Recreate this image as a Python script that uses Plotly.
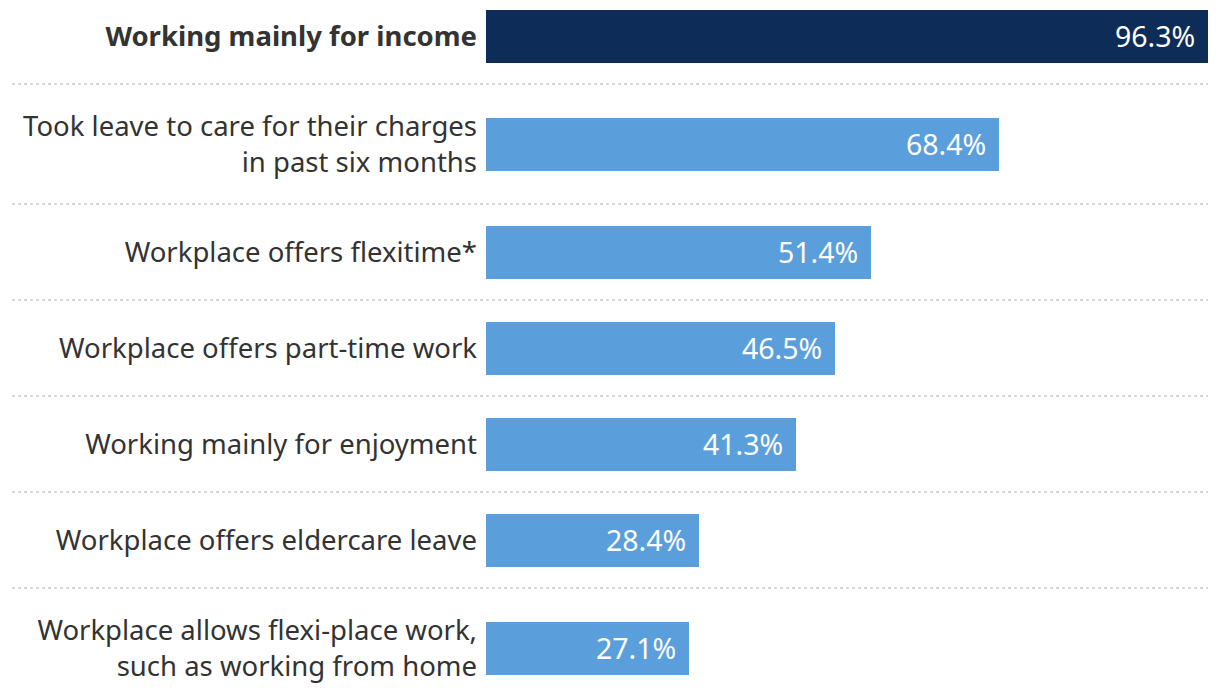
import plotly.graph_objects as go

categories = [
    "<b>Working mainly for income</b>",
    "Took leave to care for their charges<br>in past six months",
    "Workplace offers flexitime*",
    "Workplace offers part-time work",
    "Working mainly for enjoyment",
    "Workplace offers eldercare leave",
    "Workplace allows flexi-place work,<br>such as working from home",
]
values = [96.3, 68.4, 51.4, 46.5, 41.3, 28.4, 27.1]
colors = ["#0d2c57", "#5b9edc", "#5b9edc", "#5b9edc", "#5b9edc", "#5b9edc", "#5b9edc"]

# Row layout: rows with two-line labels are taller
BASE_HALF = 48
EXTRA_PER_LINE = 12
halves = [BASE_HALF + EXTRA_PER_LINE * c.count("<br>") for c in categories]
positions = []
p = 0
for i, h in enumerate(halves):
    if i > 0:
        p += halves[i - 1] + h
    positions.append(p)

W, H = 1212, 690
top = -28
bottom = top + H

FONT = "Noto Sans"
TEXT_COLOR = "#333333"

fig = go.Figure()
fig.add_trace(go.Bar(
    x=values,
    y=positions,
    orientation="h",
    width=53,
    marker=dict(color=colors, line=dict(width=0)),
    hoverinfo="skip",
))

for v, pos in zip(values, positions):
    fig.add_annotation(
        x=v, y=pos, xref="x", yref="y",
        text=f"{v:.1f}%", showarrow=False,
        xanchor="right", yanchor="middle", xshift=-11,
        font=dict(family=FONT, size=28.5, color="white"),
    )

# dotted separators between rows
for i in range(len(positions) - 1):
    ysep = positions[i] + halves[i]
    fig.add_shape(
        type="line", xref="paper", yref="y",
        x0=-0.6565, x1=1.0, y0=ysep, y1=ysep,
        line=dict(color="#cccccc", width=1.3, dash="dot"),
    )

fig.update_layout(
    width=W, height=H,
    margin=dict(l=478, r=12, t=0, b=0),
    plot_bgcolor="white", paper_bgcolor="white",
    showlegend=False,
    bargap=0,
    font=dict(family=FONT, color=TEXT_COLOR),
)
fig.update_xaxes(range=[0, 96.3], visible=False, fixedrange=True)
fig.update_yaxes(
    range=[bottom, top],
    tickvals=positions, ticktext=categories,
    showgrid=False, zeroline=False, showline=False, ticks="",
    tickfont=dict(family=FONT, size=27.5, color=TEXT_COLOR),
    ticklabelstandoff=8,
    fixedrange=True,
)

fig.write_html("out.html", config={"displayModeBar": False})
